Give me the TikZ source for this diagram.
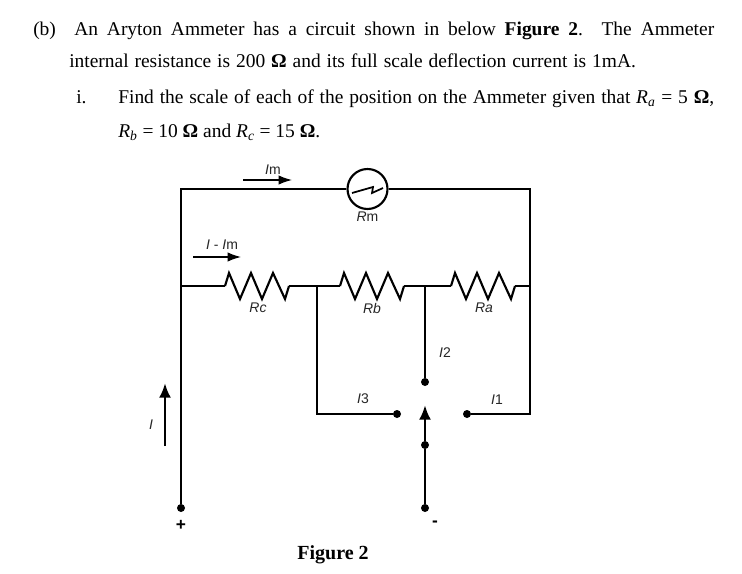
\documentclass[tikz,border=0pt]{standalone}
\usepackage{fontspec}
\setmainfont{Liberation Serif}
\newfontfamily\labelfont{Liberation Sans}
\usetikzlibrary{arrows.meta}
\tikzset{
	wire/.style={line width=1.6pt, line join=miter},
	flow/.style={line width=1pt, -{Latex[length=10pt,width=7pt]}},
	upflow/.style={line width=2pt, -{Latex[length=11pt,width=9pt]}},
	dot/.style={circle, fill=black, inner sep=0pt, minimum size=6pt},
	tag/.style={font=\labelfont\fontsize{10.5}{12}\selectfont, inner sep=0pt, text=black!85},
	para/.style={anchor=base west, inner sep=0pt, font=\fontsize{14.6}{16}\selectfont},
	pics/resistor/.style={code={
		\coordinate (-in) at (0,0);
		\coordinate (-out) at (64,0);
		\draw[wire] (-in) -- (4,-13) -- (15,13) -- (26,-13) -- (37,13) -- (48,-13) -- (60,13) -- (-out);
	}}
}
\begin{document}
\begin{tikzpicture}[x=0.75pt, y=-0.75pt]
		\useasboundingbox (0,0) rectangle (742,574);

		% question text
		\node[para] (partb) at (33,36) {(b)};
		\node[para] (line1) at (74,36) {\makebox[480pt][s]{An Aryton Ammeter has a circuit shown in below \textbf{Figure 2}. The Ammeter}};
		\node[para] (line2) at (69,68) {\makebox[425pt][s]{internal resistance is 200 \textbf{Ω} and its full scale deflection current is 1mA.}};
		\node[para] (parti) at (76,104) {i.};
		\node[para] (line3) at (118,104) {\makebox[447pt][s]{Find the scale of each of the position on the Ammeter given that \textit{R}\textsubscript{\textit{a}} = 5 \textbf{Ω},}};
		\node[para] (line4) at (118,138) {\textit{R}\textsubscript{\textit{b}} = 10 \textbf{Ω} and \textit{R}\textsubscript{\textit{c}} = 15 \textbf{Ω}.};

		% corners and junctions
		\coordinate (topleft) at (181,189);
		\coordinate (topright) at (530,189);
		\coordinate (midleft) at (181,286);
		\coordinate (midright) at (530,286);
		\coordinate (jcb) at (317,286);
		\coordinate (jba) at (425,286);
		\coordinate (cornerc) at (317,414);
		\coordinate (cornera) at (530,414);

		% meter branch
		\node[circle, draw, line width=1.6pt, minimum size=30pt, inner sep=0pt] (meter) at (367.5,189) {};
		\draw[line width=1.3pt] (352,193) -- (373,187) -- (372,193) -- (383,188);
		\draw[wire] (meter) -- (topleft) -- (midleft);
		\draw[wire] (meter) -- (topright) -- (midright);

		% resistor row
		\pic (rc) at (225,286) {resistor};
		\pic (rb) at (340,286) {resistor};
		\pic (ra) at (451,286) {resistor};
		\draw[wire] (midleft) -- (rc-in);
		\draw[wire] (rc-out) -- (jcb) -- (rb-in);
		\draw[wire] (rb-out) -- (jba) -- (ra-in);
		\draw[wire] (ra-out) -- (midright);

		% switch contacts
		\node[dot] (plus) at (181,508) {};
		\node[dot] (contactc) at (397,414) {};
		\node[dot] (contactb) at (425,382) {};
		\node[dot] (contacta) at (467,414) {};
		\node[dot] (pivot) at (425,445) {};
		\node[dot] (minus) at (425,508) {};
		\coordinate (swingtip) at (425,405);
		\draw[wire] (midleft) -- (plus);
		\draw[wire] (jcb) -- (cornerc) -- (contactc);
		\draw[wire] (jba) -- (contactb);
		\draw[wire] (midright) -- (cornera) -- (contacta);
		\draw[wire] (minus) -- (pivot);
		\draw[upflow] (pivot) -- (swingtip);

		% current arrows
		\coordinate (imstart) at (243,180);
		\coordinate (imend) at (292,180);
		\coordinate (shuntstart) at (193,257);
		\coordinate (shuntend) at (241,257);
		\coordinate (istart) at (165,446);
		\coordinate (iend) at (165,383);
		\draw[flow] (imstart) -- (imend);
		\draw[flow] (shuntstart) -- (shuntend);
		\draw[upflow] (istart) -- (iend);

		% labels
		\node[tag] (imlabel) at (273,170) {\textit{I}m};
		\node[tag] (shuntlabel) at (222,245) {\textit{I} - \textit{I}m};
		\node[tag] (rmlabel) at (367.5,217) {\textit{R}m};
		\node[tag] (rclabel) at (258,308) {\textit{Rc}};
		\node[tag] (rblabel) at (372,308) {\textit{Rb}};
		\node[tag] (ralabel) at (484,308) {\textit{Ra}};
		\node[tag] (itwo) at (445,353) {\textit{I}2};
		\node[tag] (ithree) at (363,399) {\textit{I}3};
		\node[tag] (ione) at (497,400) {\textit{I}1};
		\node[tag] (ilabel) at (151,425) {\textit{I}};
		\node[tag, font=\labelfont\bfseries\fontsize{13}{14}\selectfont, text=black] (pluslabel) at (181,525) {+};
		\node[tag, font=\labelfont\bfseries\fontsize{13}{14}\selectfont, text=black] (minuslabel) at (435,524) {-};
		\node[para, anchor=center, font=\bfseries\fontsize{15}{17}\selectfont] (caption) at (333,555) {Figure 2};
	\end{tikzpicture}
\end{document}
